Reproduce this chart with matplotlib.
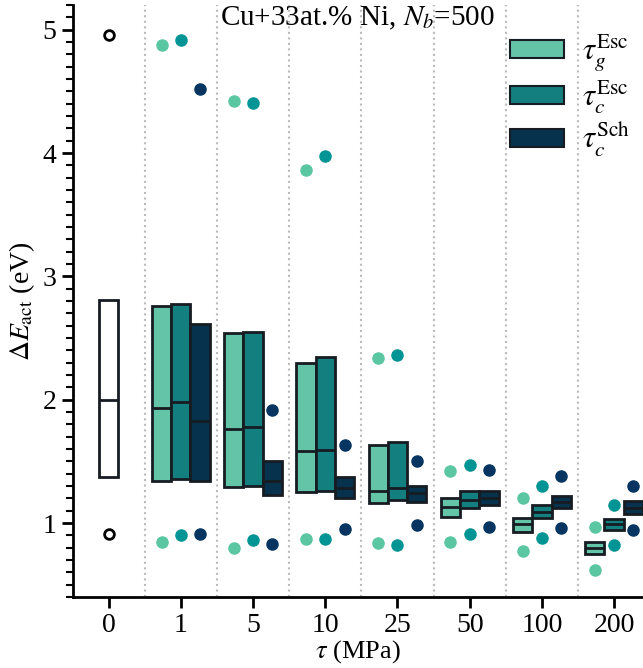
import numpy as np
import matplotlib
matplotlib.use("Agg")
import matplotlib.pyplot as plt
from matplotlib.patches import Patch
from matplotlib.ticker import MultipleLocator

plt.rcParams['font.family'] = ['Liberation Serif', 'DejaVu Serif']
plt.rcParams['mathtext.fontset'] = 'stix'

# ---- data ----
categories = ["0", "1", "5", "10", "25", "50", "100", "200"]
series = [r"$\tau_g^{\mathrm{Esc}}$", r"$\tau_c^{\mathrm{Esc}}$", r"$\tau_c^{\mathrm{Sch}}$"]

# reference (tau = 0): q1, median, q3, low point, high point
ref_q1, ref_med, ref_q3 = 1.37, 2.00, 2.81
ref_lo, ref_hi = 0.91, 4.96

# one row per stress 1..200
g_q1 = [1.34, 1.29, 1.25, 1.16, 1.05, 0.93, 0.75]
g_med = [1.93, 1.76, 1.58, 1.26, 1.13, 0.99, 0.80]
g_q3 = [2.76, 2.54, 2.30, 1.63, 1.20, 1.04, 0.85]
g_lo = [0.85, 0.80, 0.87, 0.84, 0.85, 0.77, 0.62]
g_hi = [4.88, 4.42, 3.86, 2.34, 1.42, 1.20, 0.97]

c_q1 = [1.36, 1.30, 1.26, 1.19, 1.12, 1.04, 0.94]
c_med = [1.98, 1.78, 1.59, 1.28, 1.19, 1.09, 0.99]
c_q3 = [2.78, 2.55, 2.35, 1.66, 1.26, 1.15, 1.03]
c_lo = [0.90, 0.86, 0.87, 0.82, 0.91, 0.88, 0.82]
c_hi = [4.92, 4.41, 3.98, 2.36, 1.47, 1.30, 1.15]

s_q1 = [1.34, 1.23, 1.20, 1.17, 1.15, 1.12, 1.07]
s_med = [1.83, 1.34, 1.28, 1.24, 1.20, 1.17, 1.125]
s_q3 = [2.61, 1.50, 1.37, 1.30, 1.26, 1.22, 1.175]
s_lo = [0.91, 0.83, 0.95, 0.98, 0.97, 0.96, 0.94]
s_hi = [4.52, 1.92, 1.63, 1.50, 1.43, 1.38, 1.30]

box_colors = ["#64c4a8", "#13807f", "#06324e"]
dot_colors = ["#5ac6a2", "#009494", "#053560"]
edge = "#161c22"

fig = plt.figure(figsize=(6.43, 6.68), dpi=100)
ax = fig.add_axes([0.1128, 0.1063, 0.8872, 0.886])

width = 0.8 / 3
groups = [(g_q1, g_med, g_q3, g_lo, g_hi),
          (c_q1, c_med, c_q3, c_lo, c_hi),
          (s_q1, s_med, s_q3, s_lo, s_hi)]

# reference box
ref_stats = [dict(q1=ref_q1, med=ref_med, q3=ref_q3, whislo=ref_q1, whishi=ref_q3,
                  fliers=[ref_lo, ref_hi])]
ax.bxp(ref_stats, positions=[0], widths=width, patch_artist=True, showcaps=False,
       boxprops=dict(facecolor="white", edgecolor=edge, linewidth=2),
       medianprops=dict(color=edge, linewidth=2),
       whiskerprops=dict(linewidth=0),
       flierprops=dict(marker="o", markerfacecolor="white", markeredgecolor="black",
                       markeredgewidth=2, markersize=7))

for k, (q1, med, q3, lo, hi) in enumerate(groups):
    pos = np.arange(1, 8) + (k - 1) * width
    stats = [dict(q1=q1[i], med=med[i], q3=q3[i], whislo=q1[i], whishi=q3[i],
                  fliers=[lo[i], hi[i]]) for i in range(7)]
    ax.bxp(stats, positions=pos, widths=width, patch_artist=True, showcaps=False,
           boxprops=dict(facecolor=box_colors[k], edgecolor=edge, linewidth=2),
           medianprops=dict(color=edge, linewidth=2),
           whiskerprops=dict(linewidth=0),
           flierprops=dict(marker="o", markerfacecolor=dot_colors[k],
                           markeredgecolor=dot_colors[k], markersize=8))

for xv in np.arange(0.5, 7, 1):
    ax.axvline(xv, color="#bbbbbb", linestyle=":", linewidth=1.5, zorder=0)

ax.set_xlim(-0.5, 7.4)
ax.set_ylim(0.4, 5.2)
ax.set_xticks(range(8))
ax.set_xticklabels(categories)
ax.yaxis.set_major_locator(MultipleLocator(1))
ax.yaxis.set_minor_locator(MultipleLocator(0.1))
ax.tick_params(axis="both", which="major", labelsize=20, length=8, width=2, direction="out")
ax.tick_params(axis="y", which="minor", length=5, width=1.5, direction="out")
for side in ["top", "right"]:
    ax.spines[side].set_visible(False)
for side in ["left", "bottom"]:
    ax.spines[side].set_linewidth(2)

ax.set_xlabel(r"$\tau$ (MPa)", fontsize=19, labelpad=0)
ax.set_ylabel(r"$\Delta E_{\mathrm{act}}$ (eV)", fontsize=20, labelpad=4)
ax.text(0.5, 1.0, r"Cu+33at.% Ni, $N_b$=500", transform=ax.transAxes,
        ha="center", va="top", fontsize=21)

handles = [Patch(facecolor=box_colors[k], edgecolor=edge, linewidth=1.5) for k in range(3)]
ax.legend(handles, series, loc="upper right", bbox_to_anchor=(1.026, 1.0), frameon=False,
          fontsize=22, handlelength=1.76, handleheight=0.55, labelspacing=0.15,
          handletextpad=0.6)

fig.savefig("out.png", dpi=100)
